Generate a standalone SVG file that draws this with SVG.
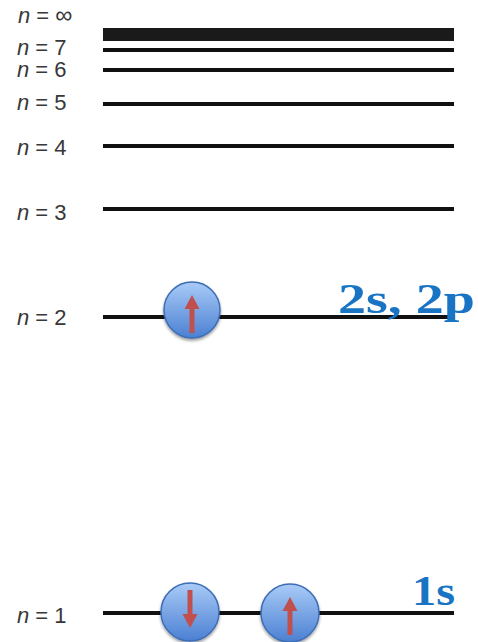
<svg xmlns="http://www.w3.org/2000/svg" width="478" height="642" viewBox="0 0 478 642">
<style>
.lbl{font-family:"Liberation Sans",Arial,sans-serif;font-size:22px;fill:#383838}
.lbl tspan.n{font-style:italic}
.lvl{stroke:#111;stroke-width:4}
.orb{font-family:"Liberation Serif","DejaVu Serif",serif;font-weight:bold;font-size:42px;fill:#1a74c4}
.e{fill:url(#eg);stroke:#3d6db5;stroke-width:1.5}
.arr{fill:#c0504d}
</style>
<defs>
<linearGradient id="eg" x1="0" y1="0" x2="0" y2="1">
<stop offset="0" stop-color="#a9cbf7"/>
<stop offset="1" stop-color="#4b80d2"/>
</linearGradient>
<filter id="sh" x="-30%" y="-30%" width="160%" height="160%">
<feGaussianBlur in="SourceAlpha" stdDeviation="1.5"/>
<feOffset dx="0" dy="2" result="b"/>
<feComponentTransfer><feFuncA type="linear" slope="0.4"/></feComponentTransfer>
<feMerge><feMergeNode/><feMergeNode in="SourceGraphic"/></feMerge>
</filter>
<path id="up" d="M-2.5,22 L-2.5,-2 L-7.5,-2 L0,-16 L7.5,-2 L2.5,-2 L2.5,22 Z"/>
</defs>
<rect width="478" height="642" fill="#fff"/>
<g id="levels">
<rect x="103" y="28" width="351" height="13" fill="#1a1a1a"/>
<line class="lvl" x1="103" y1="50" x2="454" y2="50"/>
<line class="lvl" x1="103" y1="70" x2="454" y2="70"/>
<line class="lvl" x1="103" y1="104" x2="454" y2="104"/>
<line class="lvl" x1="103" y1="146" x2="454" y2="146"/>
<line class="lvl" x1="103" y1="209" x2="454" y2="209"/>
<line class="lvl" x1="103" y1="317" x2="450" y2="317"/>
<line class="lvl" x1="103" y1="613" x2="454" y2="613"/>
</g>
<g id="labels">
<text class="lbl" x="18" y="23"><tspan class="n">n</tspan> = <tspan font-size="24">∞</tspan></text>
<text class="lbl" x="17" y="55"><tspan class="n">n</tspan> = 7</text>
<text class="lbl" x="17" y="77"><tspan class="n">n</tspan> = 6</text>
<text class="lbl" x="17" y="110"><tspan class="n">n</tspan> = 5</text>
<text class="lbl" x="17" y="155"><tspan class="n">n</tspan> = 4</text>
<text class="lbl" x="17" y="220"><tspan class="n">n</tspan> = 3</text>
<text class="lbl" x="17" y="325"><tspan class="n">n</tspan> = 2</text>
<text class="lbl" x="17" y="623"><tspan class="n">n</tspan> = 1</text>
</g>
<g id="orbital-2">
<text class="orb" x="338" y="313" textLength="137" lengthAdjust="spacingAndGlyphs">2s, 2p</text>
</g>
<g id="orbital-1">
<text class="orb" x="412" y="605" textLength="43" lengthAdjust="spacingAndGlyphs">1s</text>
</g>
<g id="electron-n2" filter="url(#sh)">
<circle class="e" cx="192" cy="310" r="28"/>
<use href="#up" class="arr" transform="translate(192,311)"/>
</g>
<g id="electron-n1-down" filter="url(#sh)">
<circle class="e" cx="190" cy="612" r="29"/>
<use href="#up" class="arr" transform="translate(190,612) rotate(180)"/>
</g>
<g id="electron-n1-up" filter="url(#sh)">
<circle class="e" cx="290" cy="613" r="29"/>
<use href="#up" class="arr" transform="translate(290,613)"/>
</g>
</svg>
